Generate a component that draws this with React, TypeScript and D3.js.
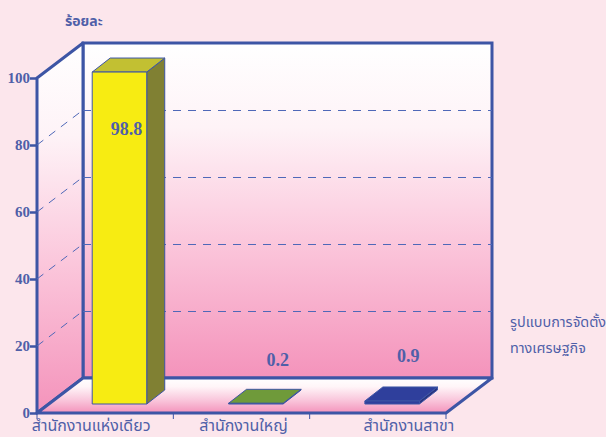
import React, { useEffect, useRef } from "react";
import * as d3 from "d3";

const categories = ["สำนักงานแห่งเดียว", "สำนักงานใหญ่", "สำนักงานสาขา"];
const values = [98.8, 0.2, 0.9];
const valueLabels = ["98.8", "0.2", "0.9"];
const yTicks = [0, 20, 40, 60, 80, 100];
const barFront = ["#f7ec12", "#6f9a3a", "#2f3f9c"];
const barTop = ["#c2c032", "#6f9a3a", "#2f3f9c"];
const barSide = ["#808033", "#54762c", "#28347f"];

const W = 606;
const H = 437;
const BLUE = "#3d55a5";
const TEXT = "#4f5fa8";
const PINK = "#f493bb";
const THAI = "'Noto Sans Thai', 'Noto Serif Thai', 'Liberation Serif', 'DejaVu Serif', serif";

export default function App() {
  const svgRef = useRef<SVGSVGElement>(null);

  useEffect(() => {
    const svg = d3.select(svgRef.current);
    svg.selectAll("*").remove();

    // front plane scales, depth is added on top of them
    const x = d3.scaleBand().domain(categories).range([37, 446]).paddingInner(0).paddingOuter(0);
    const y = d3.scaleLinear().domain([0, 100]).range([413, 78]);
    const depthX = 46;
    const depthY = -35;
    const barDepthX = 18;
    const barDepthY = -14;
    const barY = d3.scaleLinear().domain([0, 100]).range([404, 68]);

    const defs = svg.append("defs");
    const addGrad = (id: string, stops: [number, string][]) => {
      const g = defs.append("linearGradient").attr("id", id).attr("x1", 0).attr("y1", 0).attr("x2", 0).attr("y2", 1);
      stops.forEach(([o, c]) => g.append("stop").attr("offset", o).attr("stop-color", c));
    };
    addGrad("wall", [[0, "#ffffff"], [0.25, "#fef3f7"], [0.6, "#fbc6db"], [1, PINK]]);
    addGrad("floor", [[0, "#ffffff"], [0.25, "#fff5f8"], [0.65, "#f9c4da"], [1, PINK]]);

    svg.append("rect").attr("width", W).attr("height", H).attr("fill", "#fce6ec");

    const x0 = 37;
    const x1 = 446;
    const pts = (p: [number, number][]) => p.map((d) => d.join(",")).join(" ");

    // back wall
    svg.append("rect")
      .attr("x", x0 + depthX).attr("y", y(100) + depthY)
      .attr("width", x1 - x0).attr("height", y(0) - y(100))
      .attr("fill", "url(#wall)").attr("stroke", BLUE).attr("stroke-width", 3);
    // left wall
    svg.append("polygon")
      .attr("points", pts([[x0, y(100)], [x0 + depthX, y(100) + depthY], [x0 + depthX, y(0) + depthY], [x0, y(0)]]))
      .attr("fill", "url(#wall)").attr("stroke", BLUE).attr("stroke-width", 3).attr("stroke-linejoin", "round");
    // floor
    svg.append("polygon")
      .attr("points", pts([[x0, y(0)], [x0 + depthX, y(0) + depthY], [x1 + depthX, y(0) + depthY], [x1, y(0)]]))
      .attr("fill", "url(#floor)").attr("stroke", BLUE).attr("stroke-width", 3).attr("stroke-linejoin", "round");

    // dashed gridlines
    const grid = svg.append("g").attr("fill", "none").attr("stroke", "#4f68b8").attr("stroke-width", 1).attr("stroke-dasharray", "8 7");
    yTicks.filter((t) => t > 0 && t < 100).forEach((t) => {
      grid.append("line").attr("x1", x0).attr("y1", y(t)).attr("x2", x0 + depthX).attr("y2", y(t) + depthY);
      grid.append("line").attr("x1", x0 + depthX).attr("y1", y(t) + depthY + 0.5).attr("x2", x1 + depthX).attr("y2", y(t) + depthY + 0.5);
    });

    // y axis
    const yAxis = svg.append("g")
      .attr("transform", `translate(${x0},0)`)
      .call(d3.axisLeft(y).tickValues(yTicks).tickSize(7).tickPadding(0).tickFormat(d3.format("d")));
    yAxis.select(".domain").remove();
    yAxis.selectAll("line").attr("stroke", BLUE).attr("stroke-width", 2.5);
    yAxis.selectAll("text")
      .attr("fill", TEXT)
      .attr("font-family", "'Liberation Serif', serif")
      .attr("font-weight", "bold")
      .attr("font-size", 15);

    // category ticks and labels
    const edges = [...categories.map((c) => x(c) as number), x1];
    svg.append("g").selectAll("line").data(edges).join("line")
      .attr("x1", (d) => d).attr("x2", (d) => d)
      .attr("y1", y(0)).attr("y2", y(0) + 6)
      .attr("stroke", BLUE).attr("stroke-width", 1);
    const labelShift = [-14, 2, 31];
    svg.append("g").selectAll("text").data(categories).join("text")
      .attr("x", (d, i) => (x(d) as number) + x.bandwidth() / 2 + labelShift[i])
      .attr("y", 431)
      .attr("text-anchor", "middle")
      .attr("font-family", THAI)
      .attr("font-size", 16)
      .attr("fill", TEXT)
      .text((d) => d);

    // bars
    const barWidth = x.bandwidth() * 0.4;
    const bars = svg.append("g").attr("stroke", "#3d55a5").attr("stroke-width", 1).attr("stroke-linejoin", "round");
    categories.forEach((c, i) => {
      const left = (x(c) as number) + x.bandwidth() * 0.405;
      const right = left + barWidth;
      const top = barY(values[i]);
      const bottom = barY(0);
      bars.append("polygon")
        .attr("points", pts([[right, bottom], [right + barDepthX, bottom + barDepthY], [right + barDepthX, top + barDepthY], [right, top]]))
        .attr("fill", barSide[i]);
      bars.append("polygon")
        .attr("points", pts([[left, top], [left + barDepthX, top + barDepthY], [right + barDepthX, top + barDepthY], [right, top]]))
        .attr("fill", barTop[i]);
      bars.append("rect")
        .attr("x", left).attr("y", top)
        .attr("width", barWidth).attr("height", bottom - top)
        .attr("fill", barFront[i]);
    });

    // value labels
    const labelY = [135, 366, 362];
    const valueShift = [7, 22, 16];
    svg.append("g").selectAll("text").data(valueLabels).join("text")
      .attr("x", (_, i) => (x(categories[i]) as number) + x.bandwidth() * 0.405 + barWidth / 2 + valueShift[i])
      .attr("y", (_, i) => labelY[i])
      .attr("text-anchor", "middle")
      .attr("font-family", "'Liberation Serif', serif")
      .attr("font-weight", "bold")
      .attr("font-size", 18)
      .attr("fill", TEXT)
      .text((d) => d);

    // axis titles
    const title = (t: string, tx: number, ty: number, size: number, weight: string) =>
      svg.append("text").attr("x", tx).attr("y", ty)
        .attr("font-family", THAI).attr("font-size", size).attr("font-weight", weight)
        .attr("fill", TEXT).text(t);
    title("ร้อยละ", 65, 26, 14, "bold");
    title("รูปแบบการจัดตั้ง", 510, 327, 14.4, "normal");
    title("ทางเศรษฐกิจ", 510, 353, 14.4, "normal");
  }, []);

  return (
    <svg
      ref={svgRef}
      width={W}
      height={H}
      style={{ position: "absolute", left: 0, top: 0, display: "block" }}
    />
  );
}
